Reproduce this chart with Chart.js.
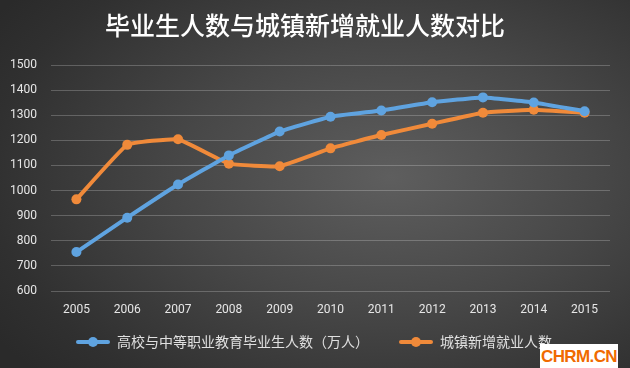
<!DOCTYPE html>
<html>
<head>
<meta charset="utf-8">
<script src="https://cdn.jsdelivr.net/npm/chart.js@4/dist/chart.umd.min.js"></script>
<style>
  html, body { margin: 0; padding: 0; }
  body {
    width: 630px; height: 368px; overflow: hidden; position: relative;
    background: radial-gradient(ellipse 75% 80% at 62% 48%, #5e5e5e 0%, #474747 45%, #303030 85%, #2a2a2a 100%);
  }
  #wrap { position: absolute; left: 0; top: 0; width: 630px; height: 368px; }
  .stamp {
    position: absolute; left: 540px; top: 344px; width: 78px; height: 24px;
    background: #fff; color: #f06a00; font: bold 17px "Liberation Sans", sans-serif;
    letter-spacing: -0.6px; text-align: center; line-height: 25px; overflow: hidden;
  }
</style>
</head>
<body>
<div id="wrap"><canvas id="lineChart"></canvas></div>
<div class="stamp">CHRM.CN</div>
<script>
// data
const years = ['2005', '2006', '2007', '2008', '2009', '2010', '2011', '2012', '2013', '2014', '2015'];
const graduates = [755, 892, 1024, 1140, 1235, 1294, 1319, 1352, 1371, 1351, 1316];
const newJobs = [965, 1182, 1204, 1107, 1097, 1168, 1221, 1266, 1310, 1322, 1310];
const yTicks = [600, 700, 800, 900, 1000, 1100, 1200, 1300, 1400, 1500];

const blue = '#5fa3e0';
const orange = '#f08a3a';

// legend marker: short line with a dot, with some empty room on the left
function legendMarker(color) {
    const c = document.createElement('canvas');
    c.width = 52; c.height = 12;
    const g = c.getContext('2d');
    g.strokeStyle = color;
    g.lineWidth = 4;
    g.lineCap = 'round';
    g.beginPath(); g.moveTo(20, 6); g.lineTo(50, 6); g.stroke();
    g.fillStyle = color;
    g.beginPath(); g.arc(35, 6, 5, 0, Math.PI * 2); g.fill();
    return c;
}
const markers = [legendMarker(blue), legendMarker(orange)];

const ctx = document.getElementById('lineChart').getContext('2d');
const lineChart = new Chart(ctx, {
    type: 'line',
    data: {
        labels: years,
        datasets: [
            {
                label: '高校与中等职业教育毕业生人数（万人）',
                data: graduates,
                borderColor: blue,
                backgroundColor: blue,
                borderWidth: 4,
                pointRadius: 5,
                pointBackgroundColor: blue,
                pointBorderWidth: 0,
                tension: 0.1,
            },
            {
                label: '城镇新增就业人数',
                data: newJobs,
                borderColor: orange,
                backgroundColor: orange,
                borderWidth: 4,
                pointRadius: 5,
                pointBackgroundColor: orange,
                pointBorderWidth: 0,
                tension: 0.1,
            },
        ],
    },
    options: {
        responsive: true,
        maintainAspectRatio: false,
        animation: false,
        layout: { padding: { left: 0, right: 20, top: 0, bottom: 9 } },
        plugins: {
            title: {
                display: true,
                text: '毕业生人数与城镇新增就业人数对比',
                color: '#ffffff',
                font: { family: '"Noto Sans CJK SC"', size: 25, weight: 500 },
                padding: { top: 10, bottom: 25 },
            },
            legend: {
                position: 'bottom',
                labels: {
                    color: '#e0e0e0',
                    font: { family: '"Noto Sans CJK SC"', size: 14 },
                    usePointStyle: true,
                    pointStyleWidth: 52,
                    boxHeight: 12,
                    padding: 12,
                    generateLabels: function(chart) {
                        return Chart.defaults.plugins.legend.labels.generateLabels(chart).map(function(item, i) {
                            item.pointStyle = markers[i];
                            return item;
                        });
                    },
                },
            },
            tooltip: { enabled: false },
        },
        scales: {
            x: {
                offset: true,
                grid: { display: false, drawTicks: false },
                border: { display: false },
                afterFit: function(scale) { scale.height = 32; },
                ticks: {
                    color: '#e6e6e6',
                    font: { family: 'Roboto', size: 12 },
                    padding: 12,
                },
            },
            y: {
                min: 600,
                max: 1500,
                afterBuildTicks: function(scale) {
                    scale.ticks = yTicks.map(v => ({ value: v }));
                },
                afterFit: function(scale) { scale.width = 51; },
                grid: { color: 'rgba(255,255,255,0.22)', lineWidth: 1, drawTicks: false },
                border: { display: false },
                ticks: {
                    color: '#e6e6e6',
                    font: { family: 'Roboto', size: 12 },
                    padding: 14,
                    callback: function(value) { return String(value); },
                },
            },
        },
    },
});
</script>
</body>
</html>
